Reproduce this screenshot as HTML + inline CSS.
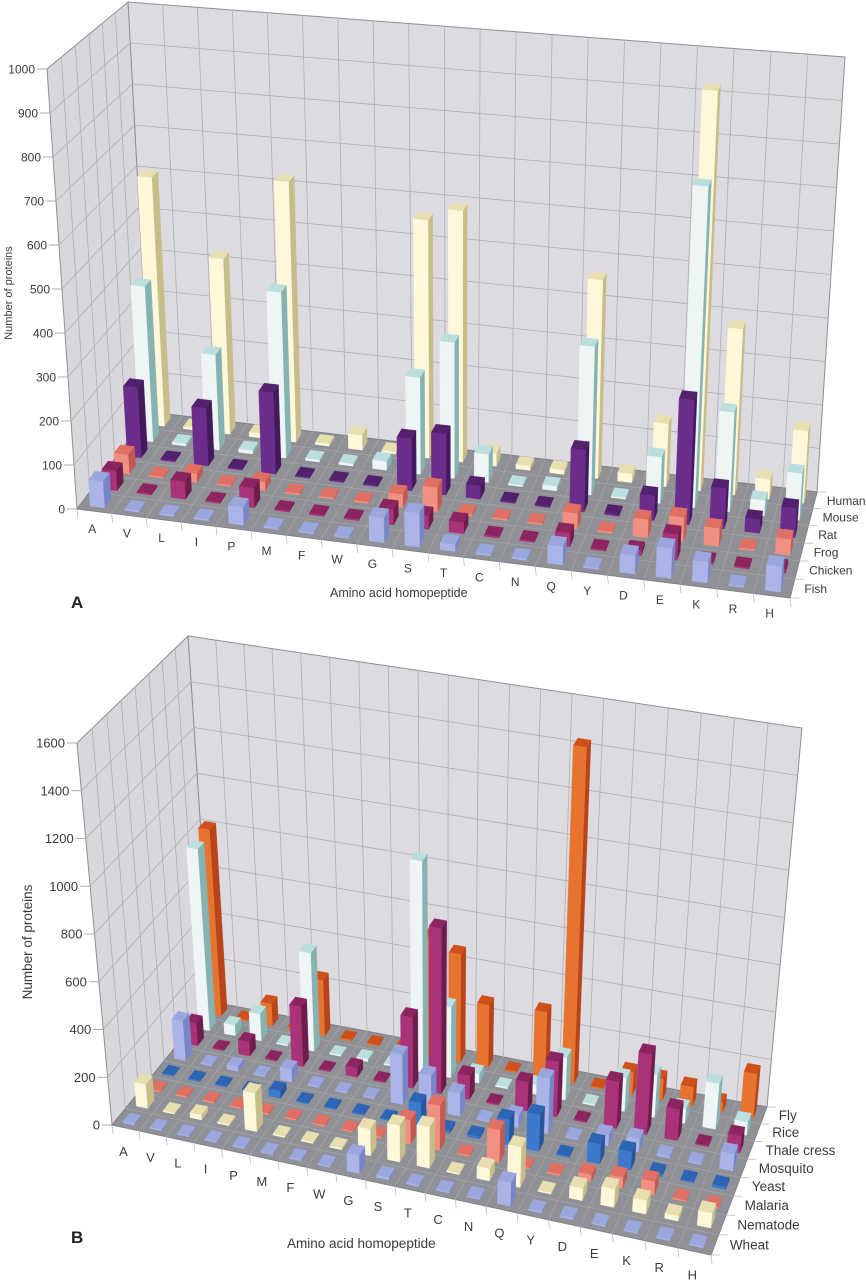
<!DOCTYPE html>
<html><head><meta charset="utf-8"><title>Homopeptide 3D bar charts</title>
<style>
html,body{margin:0;padding:0;background:#fff;}
svg{display:block;}
text{font-family:"Liberation Sans",sans-serif;fill:#3a3a3a;}
</style></head>
<body>
<svg id="chart" width="866" height="1280" viewBox="0 0 866 1280" xmlns="http://www.w3.org/2000/svg">
  <g id="panelA"></g>
  <g id="panelB"></g>
  <text x="71" y="608" font-size="17" font-weight="bold" style="fill:#222">A</text>
  <text x="71" y="1243" font-size="17" font-weight="bold" style="fill:#222">B</text>
  <text x="330" y="597" font-size="12.5">Amino acid homopeptide</text>
  <text x="287" y="1248" font-size="13.5">Amino acid homopeptide</text>
  <text transform="translate(12,293) rotate(-90)" text-anchor="middle" font-size="11">Number of proteins</text>
  <text transform="translate(32,942) rotate(-90)" text-anchor="middle" font-size="13.5">Number of proteins</text>
</svg>
<script>
// ---------- data ----------
const aminoCats = ['A','V','L','I','P','M','F','W','G','S','T','C','N','Q','Y','D','E','K','R','H'];
const seriesNamesA = ['Fish','Chicken','Frog','Rat','Mouse','Human'];
const ticksA = [0,100,200,300,400,500,600,700,800,900,1000];
const fishA    = [60,3,3,3,40,3,3,3,55,75,15,3,3,40,3,40,65,45,3,55];
const chickenA = [45,3,40,3,45,3,3,3,35,30,25,3,3,30,3,10,55,5,3,10];
const frogA    = [45,3,20,3,20,3,3,3,30,55,5,3,3,35,3,40,55,40,3,35];
const ratA     = [165,3,135,3,190,3,3,3,120,140,30,3,3,140,3,55,280,90,30,65];
const mouseA   = [370,5,225,8,390,5,5,20,225,315,65,3,10,340,3,105,730,225,35,105];
const humanA   = [600,5,420,10,620,5,35,5,560,590,30,10,10,460,20,145,920,380,45,165];

const seriesNamesB = ['Wheat','Nematode','Malaria','Yeast','Mosquito','Thale cress','Rice','Fly'];
const ticksB = [0,200,400,600,800,1000,1200,1400,1600];
const wheatB    = [5,5,5,5,5,5,5,5,75,10,5,5,5,95,5,5,5,5,5,5];
const nematodeB = [100,5,20,5,160,5,5,5,110,150,170,5,50,165,5,50,75,55,20,60];
const malariaB  = [5,5,5,5,5,5,5,5,5,100,185,5,135,5,5,30,45,55,5,5];
const yeastB    = [5,5,5,5,30,5,5,5,5,100,10,10,105,150,5,80,75,10,5,10];
const mosquitoB = [170,5,20,5,55,5,5,5,210,145,95,5,50,230,5,45,55,10,5,70];
const thaleB    = [95,5,60,5,255,5,40,5,300,700,100,5,120,230,5,195,335,130,5,70];
const riceB     = [785,45,115,5,420,5,10,5,900,300,40,5,40,180,5,140,180,60,190,55];
const flyB      = [810,5,95,10,240,5,5,5,510,460,265,5,280,1430,5,95,90,80,40,185];

// ---------- helpers ----------
const NS='http://www.w3.org/2000/svg';
function homog(p0,p1,p2,p3){
  const dx1=p1[0]-p2[0],dx2=p3[0]-p2[0],dx3=p0[0]-p1[0]+p2[0]-p3[0];
  const dy1=p1[1]-p2[1],dy2=p3[1]-p2[1],dy3=p0[1]-p1[1]+p2[1]-p3[1];
  const den=dx1*dy2-dx2*dy1;
  const g=(dx3*dy2-dx2*dy3)/den, h=(dx1*dy3-dx3*dy1)/den;
  const a=p1[0]-p0[0]+g*p1[0], b=p3[0]-p0[0]+h*p3[0], c=p0[0];
  const d=p1[1]-p0[1]+g*p1[1], e=p3[1]-p0[1]+h*p3[1], f=p0[1];
  return function(u,v){const w=g*u+h*v+1;return [(a*u+b*v+c)/w,(d*u+e*v+f)/w];};
}
function mk(tag,attrs,parent){const el=document.createElementNS(NS,tag);for(const k in attrs)el.setAttribute(k,attrs[k]);parent.appendChild(el);return el;}
function pts(arr){return arr.map(p=>p[0].toFixed(1)+','+p[1].toFixed(1)).join(' ');}

const palette={
  lav:['#aab4e6','#7886c8','#9aa6dc'],
  mag:['#aa3278','#6e1c4c','#8c2460'],
  sal:['#f09080','#c05a52','#e07064'],
  pur:['#6c2c8c','#451a5c','#52206c'],
  wht:['#eef5f5','#86b2b2','#bcdede'],
  crm:['#fff7da','#c6bd8a','#e8dfb0'],
  blu:['#3e7acc','#28559a','#2e64b4'],
  org:['#e6742e','#b8441c','#d0501c']
};

function drawPanel(g,cfg){
  const F=homog(cfg.floor[0],cfg.floor[1],cfg.floor[2],cfg.floor[3]);
  const T=homog(cfg.top[0],cfg.top[1],cfg.top[2],cfg.top[3]);
  const max=cfg.ticks[cfg.ticks.length-1];
  function P(u,v,val){const a=F(u,v),b=T(u,v),t=val/max;return [a[0]+(b[0]-a[0])*t,a[1]+(b[1]-a[1])*t];}
  const nC=cfg.cats.length,nS=cfg.series.length;
  const back=mk('polygon',{points:pts([P(0,1,0),P(1,1,0),P(1,1,max),P(0,1,max)]),fill:'#dddbe0',stroke:'#8e8e96','stroke-width':1},g);
  
  
  const left=mk('polygon',{points:pts([P(0,0,0),P(0,1,0),P(0,1,max),P(0,0,max)]),fill:'#d9d7dc',stroke:'#8e8e96','stroke-width':1},g);
  
  
  const floor=mk('polygon',{points:pts([P(0,0,0),P(1,0,0),P(1,1,0),P(0,1,0)]),fill:'#8f9197',stroke:'#80828a','stroke-width':1},g);
  
  
  const grid=mk('g',{stroke:'#aeaeb6','stroke-width':0.8,fill:'none'},g);
  
  
  cfg.ticks.forEach(function(t,i){
    if(i===0||i===cfg.ticks.length-1)return;
    mk('polyline',{points:pts([P(0,0,t),P(0,1,t),P(1,1,t)])},grid);
  });
  for(let k=1;k<nC;k++){mk('line',{x1:P(k/nC,1,0)[0],y1:P(k/nC,1,0)[1],x2:P(k/nC,1,max)[0],y2:P(k/nC,1,max)[1]},grid);}
  for(let k=1;k<nS;k++){mk('line',{x1:P(0,k/nS,0)[0],y1:P(0,k/nS,0)[1],x2:P(0,k/nS,max)[0],y2:P(0,k/nS,max)[1]},grid);}
  const fgrid=mk('g',{stroke:'#a2a4aa','stroke-width':0.8,fill:'none'},g);
  
  
  for(let k=1;k<nC;k++){mk('line',{x1:P(k/nC,0,0)[0],y1:P(k/nC,0,0)[1],x2:P(k/nC,1,0)[0],y2:P(k/nC,1,0)[1]},fgrid);}
  for(let k=1;k<nS;k++){mk('line',{x1:P(0,k/nS,0)[0],y1:P(0,k/nS,0)[1],x2:P(1,k/nS,0)[0],y2:P(1,k/nS,0)[1]},fgrid);}
  const axis=mk('g',{},g);
  
  
  cfg.ticks.forEach(function(t){
    const p=P(0,0,t);
    mk('line',{x1:p[0]-10,y1:p[1],x2:p[0],y2:p[1],stroke:'#999','stroke-width':0.8},axis);
    const tx=mk('text',{x:p[0]-12,y:p[1]+4.5,'text-anchor':'end','font-size':cfg.fs},axis);
    
    
    tx.textContent=t;
  });
  const xaxis=mk('g',{},g);
  
  
  for(let k=0;k<=nC;k++){const p=P(k/nC,0,0);mk('line',{x1:p[0],y1:p[1],x2:p[0]+1,y2:p[1]+9,stroke:'#bbb','stroke-width':0.8},xaxis);}
  cfg.cats.forEach(function(c,i){
    const p=P((i+0.5)/nC,0,0);
    const tx=mk('text',{x:p[0]-2,y:p[1]+cfg.catDy,'text-anchor':'middle','font-size':cfg.fs},xaxis);
    
    
    tx.textContent=c;
  });
  const zaxis=mk('g',{},g);
  
  
  for(let k=0;k<=nS;k++){const p=P(1,k/nS,0);mk('line',{x1:p[0],y1:p[1],x2:p[0]+9,y2:p[1],stroke:'#bbb','stroke-width':0.8},zaxis);}
  cfg.series.forEach(function(s,j){
    const p=P(1,(j+0.5)/nS,0);
    const tx=mk('text',{x:p[0]+cfg.serDx,y:p[1]+4.5,'font-size':cfg.sfs},zaxis);
    
    
    tx.textContent=s;
  });
  const bars=mk('g',{'stroke-width':0.3},g);
  
  
  for(let j=nS-1;j>=0;j--){
    const vals=cfg.values[j],col=cfg.colors[j];
    for(let i=0;i<nC;i++){
      const val=Math.max(vals[i],2);
      const u0=(i+0.5-0.21)/nC,u1=(i+0.5+0.21)/nC,v0=(j+0.5-0.26)/nS,v1=(j+0.5+0.26)/nS;
      const bar=mk('g',{},bars);
      
      
      mk('polygon',{points:pts([P(u1,v0,0),P(u1,v1,0),P(u1,v1,val),P(u1,v0,val)]),fill:col[1],stroke:col[1]},bar);
      mk('polygon',{points:pts([P(u0,v0,val),P(u1,v0,val),P(u1,v1,val),P(u0,v1,val)]),fill:col[2],stroke:col[2]},bar);
      mk('polygon',{points:pts([P(u0,v0,0),P(u1,v0,0),P(u1,v0,val),P(u0,v0,val)]),fill:col[0],stroke:col[0]},bar);
    }
  }
}

drawPanel(document.getElementById('panelA'),{
  floor:[[77,509],[790,598],[817,492],[150,412]],
  top:[[47,69],[818,131],[845,57],[128,2]],
  ticks:ticksA, cats:aminoCats, series:seriesNamesA,
  values:[fishA,chickenA,frogA,ratA,mouseA,humanA],
  colors:[palette.lav,palette.mag,palette.sal,palette.pur,palette.wht,palette.crm],
  fs:12, sfs:12, catDy:22, serDx:12
});
drawPanel(document.getElementById('panelB'),{
  floor:[[112,1125],[711,1255],[767,1107],[212,1002]],
  top:[[77,743],[748,859],[802,728],[188,636]],
  ticks:ticksB, cats:aminoCats, series:seriesNamesB,
  values:[wheatB,nematodeB,malariaB,yeastB,mosquitoB,thaleB,riceB,flyB],
  colors:[palette.lav,palette.crm,palette.sal,palette.blu,palette.lav,palette.mag,palette.wht,palette.org],
  fs:13, sfs:13.5, catDy:28, serDx:15
});
</script>
</body></html>
